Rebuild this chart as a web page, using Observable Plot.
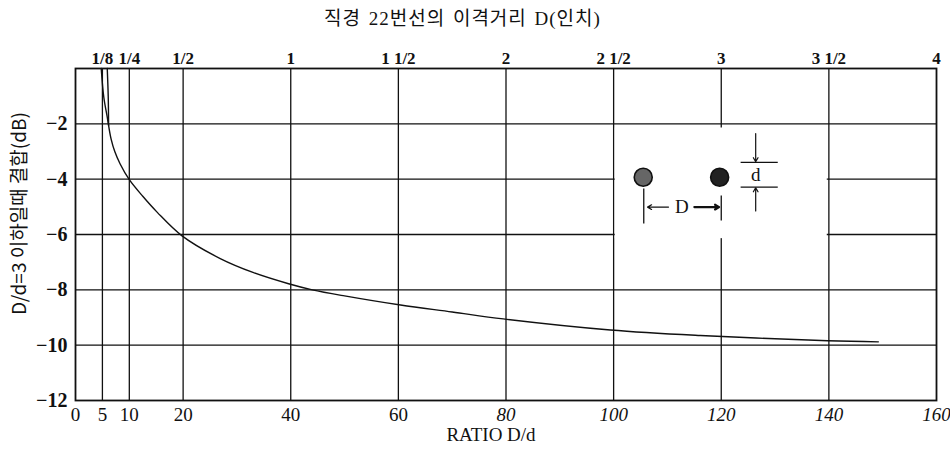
<!DOCTYPE html>
<html>
<head>
<meta charset="utf-8">
<script src="https://cdn.jsdelivr.net/npm/d3@7"></script>
<script src="https://cdn.jsdelivr.net/npm/@observablehq/plot@0.6"></script>
<style>
  html, body { margin: 0; padding: 0; background: #fff; }
  body { width: 950px; height: 452px; overflow: hidden; }
  #title {
    height: 36px; line-height: 38px; padding-left: 324px; box-sizing: border-box;
    font-family: "Liberation Serif", "Noto Sans CJK KR", serif; font-size: 19px;
    color: #111; letter-spacing: 1px; word-spacing: 2px; white-space: nowrap;
  }
</style>
</head>
<body>
<div id="title">직경 22번선의 이격거리 D(인치)</div>
<div id="chart"></div>
<script>
// ---- data ----
const ratioTicksUpright = [0, 5, 10, 20, 40, 60];
const ratioTicksItalic = [80, 100, 120, 140, 160];
const gridRatios = [5, 10, 20, 40, 60, 80, 100, 120, 140];
const dbTicks = [-2, -4, -6, -8, -10, -12];
const gridDb = [-2, -4, -6, -8, -10];
const topTickRatios = [5, 10, 20, 40, 60, 80, 100, 120, 140, 160];
const topTickLabels = ["1/8", "1/4", "1/2", "1", "1 1/2", "2", "2 1/2", "3", "3 1/2", "4"];

// main coupling curve (ratio D/d, dB)
const curveRatio = [4.78, 5.26, 5.9, 6.15, 6.62, 7.3, 8.3, 10.0, 12.5, 15.2, 19.8, 26.9, 33.1, 39.6, 44, 50, 60.4, 70, 79.5, 99.4, 116.1, 139.8, 149.2];
const curveDb    = [0, -1.04, -1.76, -2.06, -2.55, -3.0, -3.45, -4.02, -4.62, -5.2, -6.05, -6.87, -7.38, -7.78, -8.0, -8.22, -8.55, -8.8, -9.05, -9.45, -9.65, -9.84, -9.88];
// second short strand near the top
const strandRatio = [5.9, 6.08, 6.15];
const strandDb    = [0, -1.0, -2.06];

// inset diagram (in chart units)
const insetBox = [{x1: 100.3, x2: 139.7, y1: -2.15, y2: -6.15}];
const wires = [{ratio: 105.5, db: -3.93, fill: "#666"}, {ratio: 119.7, db: -3.93, fill: "#222"}];
const diagramLines = [
  {x1: 105.6, y1: -4.34, x2: 105.6, y2: -5.6},
  {x1: 120.0, y1: -4.59, x2: 120.0, y2: -5.49},
  {x1: 123.6, y1: -3.39, x2: 130.5, y2: -3.39},
  {x1: 123.6, y1: -4.29, x2: 130.5, y2: -4.29}
];
const diagramArrows = [
  {x1: 110.2, y1: -5.01, x2: 106.3, y2: -5.01, w: 1.2},
  {x1: 115.0, y1: -5.01, x2: 119.6, y2: -5.01, w: 2.2},
  {x1: 126.4, y1: -2.35, x2: 126.4, y2: -3.37, w: 1.2},
  {x1: 126.4, y1: -5.15, x2: 126.4, y2: -4.31, w: 1.2}
];
const diagramTexts = [{ratio: 112.7, db: -5.01, label: "D"}, {ratio: 126.4, db: -3.84, label: "d"}];

const xLabel = "RATIO D/d";
const yLabel = "D/d=3 이하일때 결합(dB)";

const curve = curveRatio.map((r, i) => ({ratio: r, db: curveDb[i]}));
const strand = strandRatio.map((r, i) => ({ratio: r, db: strandDb[i]}));

const serif = "Liberation Serif, serif";

const chart = Plot.plot({
  width: 950,
  height: 416,
  marginTop: 32,
  marginBottom: 52,
  marginLeft: 75,
  marginRight: 14,
  x: {domain: [0, 160]},
  y: {domain: [-12, 0]},
  style: {fontFamily: serif, fontSize: "18px", color: "#111", background: "#fff", overflow: "visible"},
  marks: [
    Plot.ruleX(gridRatios, {stroke: "#111", strokeWidth: 1.3}),
    Plot.ruleY(gridDb, {stroke: "#111", strokeWidth: 1.3}),
    Plot.rect(insetBox, {x1: "x1", x2: "x2", y1: "y1", y2: "y2", fill: "#fff"}),
    Plot.frame({stroke: "#111", strokeWidth: 1.8}),
    Plot.line(curve, {x: "ratio", y: "db", curve: "catmull-rom", stroke: "#111", strokeWidth: 1.4}),
    Plot.line(strand, {x: "ratio", y: "db", curve: "catmull-rom", stroke: "#111", strokeWidth: 1.4}),
    // axes
    Plot.axisY({ticks: dbTicks, tickSize: 0, tickPadding: 8, label: null, fontWeight: "bold", fontSize: 20}),
    Plot.axisX({ticks: ratioTicksUpright, tickSize: 0, tickPadding: 7, label: null, fontSize: 19}),
    Plot.axisX({ticks: ratioTicksItalic, tickSize: 0, tickPadding: 7, label: null, fontSize: 19, fontStyle: "italic"}),
    Plot.axisX({anchor: "top", ticks: topTickRatios, tickSize: 0, tickPadding: 5, label: null,
      fontWeight: "bold", fontSize: 17,
      tickFormat: d => topTickLabels[topTickRatios.indexOf(d)]}),
    Plot.text([xLabel], {frameAnchor: "bottom", dy: 40, dx: -15, fontSize: 19, fontFamily: serif}),
    Plot.text([yLabel], {frameAnchor: "left", textAnchor: "middle", rotate: -90, dx: -56, dy: -21, fontSize: 19,
      fontFamily: "Noto Sans CJK KR, sans-serif"}),
    // inset diagram
    Plot.link(diagramLines, {x1: "x1", y1: "y1", x2: "x2", y2: "y2", stroke: "#111", strokeWidth: 1.3}),
    Plot.arrow(diagramArrows, {x1: "x1", y1: "y1", x2: "x2", y2: "y2", stroke: "#111", strokeWidth: "w", headLength: 7}),
    Plot.dot(wires, {x: "ratio", y: "db", r: 9, fill: "fill", stroke: "#111", strokeWidth: 1.6}),
    Plot.text(diagramTexts, {x: "ratio", y: "db", text: "label", fontSize: 19, fontFamily: serif, fill: "#111"})
  ]
});
document.getElementById("chart").appendChild(chart);
</script>
</body>
</html>
